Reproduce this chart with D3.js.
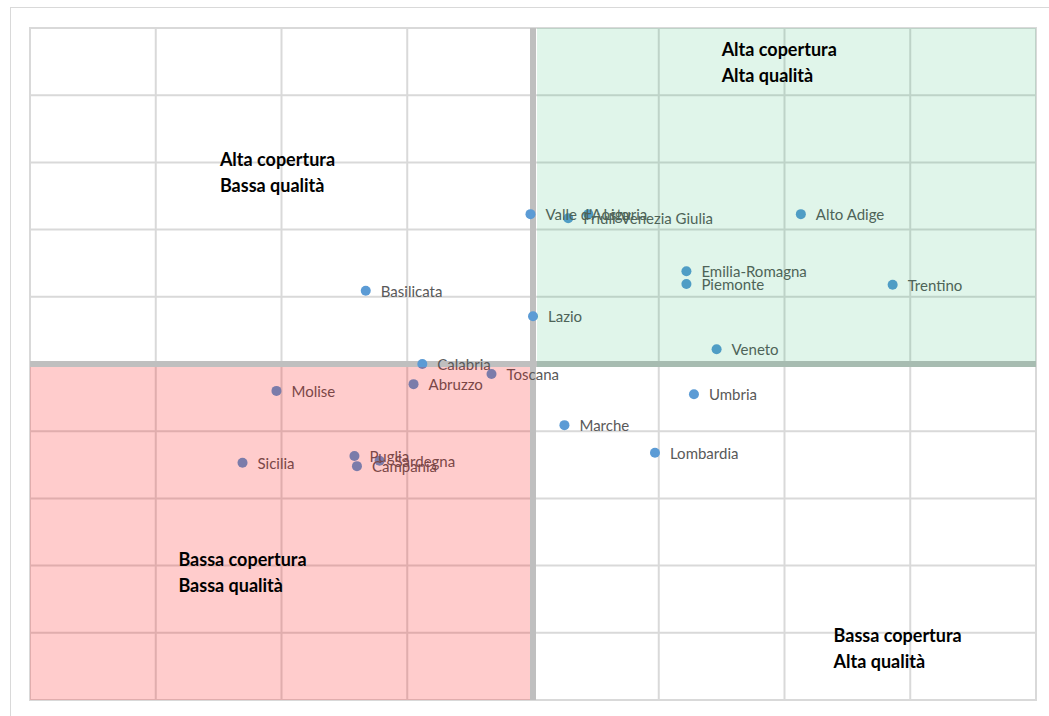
<!DOCTYPE html>
<html lang="it">
<head>
<meta charset="utf-8">
<title>Copertura e qualità per regione</title>
<script src="https://d3js.org/d3.v7.min.js"></script>
<style>
  body { margin: 0; background: #fff; }
  svg text { font-family: Lato, "Open Sans", sans-serif; }
</style>
</head>
<body>
<div id="chart"></div>
<script>
"use strict"
// regioni e coordinate (unità di griglia: qualità 0-8, copertura 0-10)
var regioni = ["Valle d'Aosta", "Liguria", "Friuli-Venezia Giulia", "Alto Adige", "Emilia-Romagna",
  "Piemonte", "Trentino", "Basilicata", "Lazio", "Veneto", "Calabria", "Toscana", "Abruzzo",
  "Molise", "Umbria", "Marche", "Lombardia", "Sicilia", "Puglia", "Sardegna", "Campania"];
var qualita = [3.98, 4.44, 4.28, 6.13, 5.22, 5.22, 6.86, 2.67, 4.0, 5.46, 3.12, 3.67, 3.05,
  1.96, 5.28, 4.25, 4.97, 1.69, 2.58, 2.78, 2.6];
var copertura = [7.23, 7.23, 7.17, 7.23, 6.38, 6.19, 6.18, 6.09, 5.71, 5.22, 5.0, 4.85, 4.70,
  4.60, 4.55, 4.09, 3.68, 3.53, 3.63, 3.56, 3.48];
var quadranti = [
  {righe: ["Alta copertura", "Alta qualità"], q: 5.5, c: 9.58},
  {righe: ["Alta copertura", "Bassa qualità"], q: 1.51, c: 7.95},
  {righe: ["Bassa copertura", "Bassa qualità"], q: 1.18, c: 1.99},
  {righe: ["Bassa copertura", "Alta qualità"], q: 6.39, c: 0.86}
];
var sogliaQ = 4, sogliaC = 5;

var width = 1049, height = 716;
var svg = d3.select("#chart").append("svg")
  .attr("width", width).attr("height", height);

var x = d3.scaleLinear().domain([0, 8]).range([30, 1036]);
var y = d3.scaleLinear().domain([0, 10]).range([700, 28]);

// cornice esterna
svg.append("rect").attr("x", 10.5).attr("y", 7.5).attr("width", 1100).attr("height", 800)
  .attr("fill", "none").attr("stroke", "#d9d9d9");

// griglia
svg.append("g").selectAll("line").data(d3.range(0, 9)).enter().append("line")
  .attr("x1", function(d){ return x(d); }).attr("x2", function(d){ return x(d); })
  .attr("y1", y(0)).attr("y2", y(10))
  .attr("stroke", "#d9d9d9").attr("stroke-width", 2);
svg.append("g").selectAll("line").data(d3.range(0, 11)).enter().append("line")
  .attr("y1", function(d){ return y(d); }).attr("y2", function(d){ return y(d); })
  .attr("x1", x(0) - 1).attr("x2", x(8) + 1)
  .attr("stroke", "#d9d9d9").attr("stroke-width", 2);

// assi dei quadranti
svg.append("line").attr("x1", x(sogliaQ)).attr("x2", x(sogliaQ)).attr("y1", y(10)).attr("y2", y(0))
  .attr("stroke", "#bfbfbf").attr("stroke-width", 6);
svg.append("line").attr("x1", x(0)).attr("x2", x(8)).attr("y1", y(sogliaC)).attr("y2", y(sogliaC))
  .attr("stroke", "#bfbfbf").attr("stroke-width", 6);

// punti
var punti = regioni.map(function(r, i){ return {nome: r, q: qualita[i], c: copertura[i]}; });
svg.append("g").selectAll("circle").data(punti).enter().append("circle")
  .attr("cx", function(d){ return x(d.q); })
  .attr("cy", function(d){ return y(d.c); })
  .attr("r", 5).attr("fill", "#5b9bd5");
svg.append("g").selectAll("text").data(punti).enter().append("text")
  .attr("x", function(d){ return x(d.q) + 15; })
  .attr("y", function(d){ return y(d.c) + 6; })
  .attr("font-size", "15px").attr("fill", "#595959")
  .text(function(d){ return d.nome; });

// aree colorate sovrapposte
svg.append("rect").attr("x", x(sogliaQ) + 4).attr("y", y(10))
  .attr("width", x(8) - x(sogliaQ) - 4).attr("height", y(sogliaC) - y(10) + 3)
  .attr("fill", "#00b050").attr("fill-opacity", 0.12);
svg.append("rect").attr("x", x(0)).attr("y", y(sogliaC) + 3)
  .attr("width", x(sogliaQ) - x(0) - 3).attr("height", y(0) - y(sogliaC) - 3)
  .attr("fill", "#ff0000").attr("fill-opacity", 0.2);

// etichette dei quadranti
var ql = svg.append("g").selectAll("text").data(quadranti).enter().append("text")
  .attr("x", function(d){ return x(d.q); })
  .attr("y", function(d){ return y(d.c); })
  .attr("font-size", "18px").attr("font-weight", "bold").attr("fill", "#000");
ql.selectAll("tspan").data(function(d){ return d.righe; }).enter().append("tspan")
  .attr("x", function(){ return d3.select(this.parentNode).attr("x"); })
  .attr("dy", function(d, i){ return i === 0 ? 0 : 26; })
  .text(function(d){ return d; });
</script>
</body>
</html>
